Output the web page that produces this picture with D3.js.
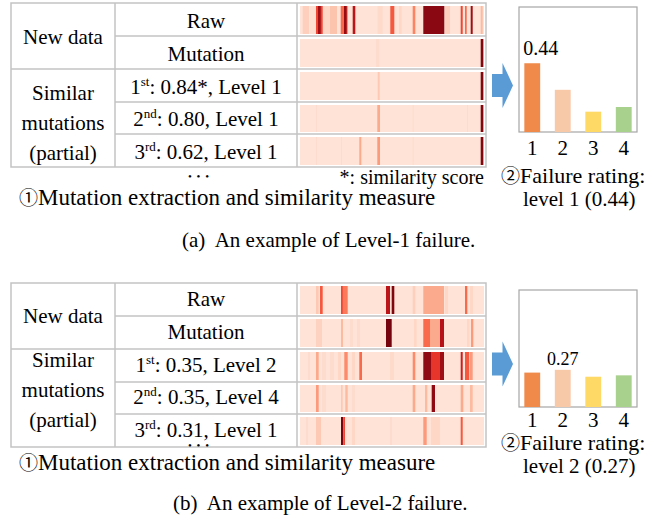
<!DOCTYPE html>
<html>
<head>
<meta charset="utf-8">
<script src="https://cdn.jsdelivr.net/npm/d3@7"></script>
<style>
  body { margin: 0; background: #fff; }
</style>
</head>
<body>
<div id="chart"></div>
<script>
// failure rating bars
const levels = ["1", "2", "3", "4"];
const ratingA = [0.44, 0.27, 0.13, 0.16];
const ratingB = [0.25, 0.27, 0.22, 0.23];
const barColors = ["#f08a4b", "#f8c9a9", "#ffd966", "#a9d18e"];

// similar mutations text
const ordinals = [["1", "st"], ["2", "nd"], ["3", "rd"]];
const scoresA = ["0.84*", "0.80", "0.62"];
const simLevelsA = [1, 1, 1];
const scoresB = ["0.35", "0.35", "0.31"];
const simLevelsB = [2, 4, 1];

// heat strips: [start, end, intensity], position on a 0..184 window
const rawA = [[2.7, 9, 0.18], [10, 16, 0.12], [16, 22.7, 0.6], [18, 20.7, 0.88], [23, 30, 0.15], [30, 37, 0.22],
  [40.7, 47.7, 0.5], [44, 46.7, 0.9], [52.7, 55.3, 0.8], [77.7, 82.7, 0.14], [90.3, 94.3, 0.55], [99, 101.7, 0.15],
  [112.7, 115.3, 0.42], [123.3, 144.3, 0.93], [145, 150, 0.18], [160.7, 162.7, 0.6], [165, 166.7, 0.5],
  [170.7, 172.7, 0.88], [180.7, 182.7, 0.25]];
const mutA = [[76, 79.3, 0.13], [180.7, 183.3, 0.95]];
const sim1A = [[77.7, 79.7, 0.2], [180.7, 183.3, 0.95]];
const sim2A = [[16, 17, 0.13], [77.3, 80, 0.3], [112.7, 113.7, 0.13], [167, 168, 0.13], [180.7, 183.3, 0.95]];
const sim3A = [[16, 17, 0.13], [41, 42, 0.13], [59.3, 61.3, 0.3], [77.3, 80, 0.35], [112.7, 113.7, 0.13], [180.7, 183.3, 0.95]];

const rawB = [[16, 18.7, 0.2], [20, 22.7, 0.55], [41, 47.7, 0.45], [41, 42.7, 0.6], [86, 90, 0.8], [91.7, 94.3, 0.95],
  [112.7, 115.3, 0.18], [123.3, 144, 0.3], [145, 148, 0.15], [165, 167.3, 0.5], [170, 173, 0.15]];
const mutB = [[16, 22, 0.17], [41, 43, 0.25], [50, 53, 0.13], [57, 60, 0.13], [86, 91.7, 0.97], [114, 116.7, 0.15],
  [123.3, 130, 0.5], [130, 140, 0.3], [140, 144, 0.82], [167, 169.5, 0.15], [171, 173.3, 0.35]];
const sim1B = [[8, 10, 0.13], [16, 18.7, 0.3], [22, 26, 0.13], [30, 34, 0.13], [38, 41, 0.15], [44.3, 47.7, 0.4],
  [52, 55, 0.15], [59.3, 62, 0.5], [90, 94, 0.14], [112.7, 115.3, 0.4], [123.3, 131.7, 0.92], [131.7, 140, 0.65],
  [140, 144, 0.88], [160.7, 162.7, 0.75], [165, 169.3, 0.55], [170, 172.7, 0.35]];
const sim2B = [[16, 18.7, 0.35], [22, 26, 0.13], [41, 42.7, 0.2], [45.3, 47.7, 0.25], [52, 55, 0.13],
  [112.7, 115.3, 0.3], [125, 127.3, 0.25], [131.7, 135, 0.92], [160.7, 163.3, 0.3], [170, 172.7, 0.25]];
const sim3B = [[6, 8, 0.13], [16, 21, 0.2], [41, 43.3, 0.97], [43.3, 45, 0.6], [52, 55, 0.15], [90, 92, 0.13],
  [123.3, 126.7, 0.35], [131, 140, 0.15], [160.7, 162.7, 0.55]];

const width = 659, height = 527;
const serif = "'Liberation Serif', 'Times New Roman', 'DejaVu Serif', serif";
const svg = d3.select("#chart").append("svg")
  .attr("width", width).attr("height", height)
  .attr("font-family", serif);

const lineColor = "#c3c3c3";
const rowEdges = [0, 33, 66, 99, 131, 164];
const tx = d3.scaleLinear().domain([0, 184]).range([300, 484]);
const heat = v => d3.interpolateReds(v);

function label(g, x, y, size, anchor) {
  return g.append("text").attr("x", x).attr("y", y)
    .attr("text-anchor", anchor || "start")
    .attr("font-family", serif).attr("font-size", size).attr("fill", "#000");
}

function drawPanel(p) {
  const g = svg.append("g");
  const top = p.top;
  const ry = i => top + rowEdges[i];

  // strips
  p.strips.forEach((bands, i) => {
    const y0 = ry(i) + 3, y1 = ry(i + 1) - 2;
    g.append("rect")
      .attr("x", tx(0)).attr("y", y0)
      .attr("width", tx(184) - tx(0)).attr("height", y1 - y0)
      .attr("fill", heat(0.1));
    g.selectAll(null).data(bands).enter().append("rect")
      .attr("x", d => tx(d[0]))
      .attr("y", y0)
      .attr("width", d => tx(d[1]) - tx(d[0]))
      .attr("height", y1 - y0)
      .attr("fill", d => heat(d[2]));
  });

  // table grid
  const grid = g.append("g").attr("stroke", lineColor).attr("stroke-width", 1.5).attr("fill", "none");
  grid.append("rect").attr("x", 11).attr("y", ry(0)).attr("width", 475).attr("height", rowEdges[5]);
  grid.append("line").attr("x1", 115).attr("x2", 115).attr("y1", ry(0)).attr("y2", ry(5));
  grid.append("line").attr("x1", 297).attr("x2", 297).attr("y1", ry(0)).attr("y2", ry(5));
  [1, 3, 4].forEach(i => grid.append("line").attr("x1", 115).attr("x2", 486).attr("y1", ry(i)).attr("y2", ry(i)));
  grid.append("line").attr("x1", 11).attr("x2", 486).attr("y1", ry(2)).attr("y2", ry(2));

  // first column
  label(g, 63, p.newDataY, 21, "middle").text("New data");
  ["Similar", "mutations", "(partial)"].forEach((t, i) => {
    label(g, 63, p.similarY + i * 30, 21, "middle").text(t);
  });

  // second column
  ["Raw", "Mutation"].forEach((t, i) => {
    label(g, 206, (ry(i) + ry(i + 1)) / 2 + p.rowDy, 21, "middle").text(t);
  });
  ordinals.forEach((o, i) => {
    const t = label(g, 206, (ry(i + 2) + ry(i + 3)) / 2 + p.rowDy, 21, "middle");
    t.append("tspan").text(o[0]);
    t.append("tspan").attr("dy", -8).attr("font-size", 13).text(o[1]);
    t.append("tspan").attr("dy", 8).text(": " + p.scores[i] + ", Level " + p.simLevels[i]);
  });

  label(g, 199, p.dotsY, 11, "middle").attr("letter-spacing", 1).text("• • •");
  if (p.note) label(g, 484, p.noteY, 20, "end").text(p.note);
  const st = label(g, 19, p.stepY, 23);
  st.append("tspan").attr("font-family", "'Noto Sans CJK JP'").attr("font-size", 19).text("①");
  st.append("tspan").text("Mutation extraction and similarity measure");

  // arrow
  const ay = p.arrowY;
  g.append("path")
    .attr("d", `M492,${ay - 11.5}H502.5V${ay - 22.5}L513,${ay}L502.5,${ay + 22.5}V${ay + 11.5}H492Z`)
    .attr("fill", "#5b9bd5");

  // rating bars
  const x = d3.scaleBand().domain(levels).range([517, 639]).paddingInner(0.48).paddingOuter(0.24);
  const y = d3.scaleLinear().domain([0, p.ymax]).range([p.boxBottom, p.boxTop]);
  const data = levels.map((l, i) => ({ level: l, value: p.rating[i] }));

  g.append("rect").attr("x", 519).attr("y", p.boxTop).attr("width", 118)
    .attr("height", p.boxBottom - p.boxTop).attr("fill", "none")
    .attr("stroke", "#a6a6a6").attr("stroke-width", 1.2);

  g.selectAll(".bar").data(data).enter().append("rect")
    .attr("class", "bar")
    .attr("x", d => x(d.level))
    .attr("y", d => y(d.value))
    .attr("width", x.bandwidth())
    .attr("height", d => y(0) - y(d.value))
    .attr("fill", (d, i) => barColors[i]);

  const ax = g.append("g").attr("transform", `translate(0,${p.boxBottom})`)
    .call(d3.axisBottom(x).tickSize(0).tickPadding(p.tickPad));
  ax.select(".domain").remove();
  ax.attr("font-family", serif).attr("font-size", 21);
  ax.selectAll("text").attr("fill", "#000");

  const top1 = data[p.peak];
  label(g, p.labelAnchor === "start" ? x(top1.level) - 1 : x(top1.level) + x.bandwidth() / 2,
    y(top1.value) - p.labelGap, p.labelSize, p.labelAnchor).text(top1.value.toFixed(2));

  const fr = label(g, 501, p.rateY, 22);
  fr.append("tspan").attr("font-family", "'Noto Sans CJK JP'").attr("font-size", 19).text("②");
  fr.append("tspan").text("Failure rating:");
  label(g, 523, p.rateY + 23, 21)
    .text("level " + levels[p.peak] + " (" + top1.value.toFixed(2) + ")");

  label(g, p.capX, p.capY, 21).attr("xml:space", "preserve").text(p.caption);
}

drawPanel({
  top: 3, strips: [rawA, mutA, sim1A, sim2A, sim3A],
  scores: scoresA, simLevels: simLevelsA,
  newDataY: 44, similarY: 100, rowDy: 8,
  dotsY: 180, note: "*: similarity score", noteY: 184, stepY: 205,
  arrowY: 85.5,
  rating: ratingA, ymax: 0.8, boxTop: 7, boxBottom: 132, tickPad: 8,
  peak: 0, labelAnchor: "start", labelGap: 8, labelSize: 20,
  rateY: 183, capX: 182, capY: 247, caption: "(a)  An example of Level-1 failure."
});

drawPanel({
  top: 283, strips: [rawB, mutB, sim1B, sim2B, sim3B],
  scores: scoresB, simLevels: simLevelsB,
  newDataY: 323, similarY: 367, rowDy: 6,
  dotsY: 449, note: null, stepY: 470,
  arrowY: 364,
  rating: ratingB, ymax: 0.85, boxTop: 290, boxBottom: 407, tickPad: 5,
  peak: 1, labelAnchor: "middle", labelGap: 5, labelSize: 18,
  rateY: 450, capX: 173, capY: 510, caption: "(b)  An example of Level-2 failure."
});
</script>
</body>
</html>
